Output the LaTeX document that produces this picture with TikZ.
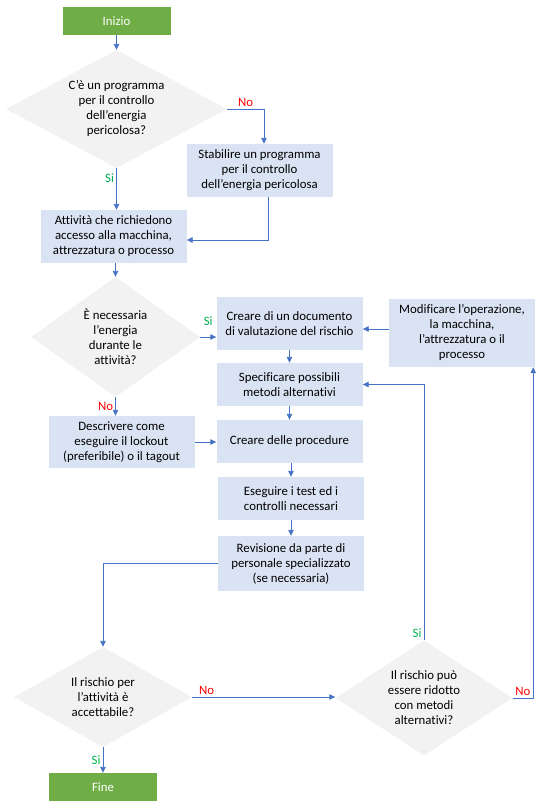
\documentclass[tikz,border=0pt]{standalone}
\usepackage{fontspec}
\setmainfont{Carlito}[Ligatures={NoCommon}]
\usetikzlibrary{shapes.geometric,arrows.meta,positioning}
\definecolor{startgreen}{HTML}{70AD47}
\definecolor{boxblue}{HTML}{DAE3F3}
\definecolor{askgray}{HTML}{F2F2F2}
\definecolor{linkblue}{HTML}{4472C4}
\definecolor{yesgreen}{HTML}{00B050}
\definecolor{nored}{HTML}{FF0000}

\begin{document}
\begin{tikzpicture}[x=1pt,y=-1pt,node distance=60pt,
    >={Triangle[length=6pt,width=5.5pt]},
    font=\fontsize{12.8}{15}\selectfont]
  \tikzstyle{every node}=[align=center]
  \tikzstyle{term}=[fill=startgreen,text=white,minimum width=108pt,minimum height=28pt,inner sep=0pt]
  \tikzstyle{act}=[fill=boxblue,minimum width=146pt,inner sep=2pt]
  \tikzstyle{ask}=[diamond,fill=askgray,inner sep=0pt]
  \tikzstyle{link}=[->,draw=linkblue,line width=0.9pt]
  \tikzstyle{silbl}=[text=yesgreen,inner sep=2pt]
  \tikzstyle{nolbl}=[text=nored,inner sep=2pt]
  \useasboundingbox (0,0) rectangle (550,809);

  % left column
  \node[term] (inizio) at (116.5,21) {Inizio};
  \node[ask,minimum width=221pt,minimum height=118pt,aspect=1.87] (d1) [node distance=88pt,below of=inizio]
    {C’è un programma\\per il controllo\\dell’energia\\pericolosa?};
  \node[act,minimum height=53pt] (stab) at (259.5,170.5)
    {Stabilire un programma\\per il controllo\\dell’energia pericolosa};
  \node[act,minimum height=53pt] (att) [node distance=127.5pt,below of=d1,xshift=-3pt]
    {Attività che richiedono\\accesso alla macchina,\\attrezzatura o processo};
  \node[ask,minimum width=169pt,minimum height=120pt,aspect=1.41] (d2) [node distance=100.5pt,below of=att,xshift=2pt]
    {È necessaria\\l’energia\\durante le\\attività?};
  \node[act,minimum height=52pt] (desc) [node distance=105pt,below of=d2,xshift=6pt]
    {Descrivere come\\eseguire il lockout\\(preferibile) o il tagout};

  % middle column
  \node[act,minimum height=53pt] (crea) at (289.5,323.5)
    {Creare di un documento\\di valutazione del rischio};
  \node[act,minimum height=68pt] (mod) at (462,333)
    {Modificare l’operazione,\\la macchina,\\l’attrezzatura o il\\processo};
  \node[act,minimum height=43pt] (spec) [node distance=61pt,below of=crea]
    {Specificare possibili\\metodi alternativi};
  \node[act,minimum height=43pt] (proc) [node distance=57pt,below of=spec]
    {Creare delle procedure};
  \node[act,minimum height=43pt] (ese) [node distance=57pt,below of=proc,xshift=1.5pt]
    {Eseguire i test ed i\\controlli necessari};
  \node[act,minimum height=55pt] (rev) [node distance=65pt,below of=ese]
    {Revisione da parte di\\personale specializzato\\(se necessaria)};

  % bottom row
  \node[ask,minimum width=178pt,minimum height=100pt,aspect=1.78] (d3) at (103,697)
    {Il rischio per\\l’attività è\\accettabile?};
  \node[term] (fine) [node distance=90pt,below of=d3] {Fine};
  \node[ask,minimum width=177pt,minimum height=115pt,aspect=1.54] (d4) at (424,698)
    {Il rischio può\\essere ridotto\\con metodi\\alternativi?};

  % connectors
  \draw[link] (inizio) -- (d1);
  \draw[link] (d1.east) -| node[nolbl,pos=0.25,above] (no1) {No} ([xshift=4.5pt]stab.north);
  \draw[link] (d1.south) -- node[silbl,pos=0.25,left] (si1) {Si} (d1.south |- att.north);
  \draw[link] ([xshift=8.5pt]stab.south) |- ([yshift=-3.5pt]att.east);
  \draw[link] (d2.north |- att.south) -- (d2.north);
  \draw[link] (d2.east) -- node[silbl,above=9pt] (si2) {Si} (d2.east -| crea.west);
  \coordinate (m1) at ([yshift=4pt]mod.west);
  \draw[link] (m1) -- (m1 -| crea.east);
  \draw[link] (crea.south) -- (crea.south |- spec.north);
  \draw[link] (spec.south) -- (spec.south |- proc.north);
  \draw[link] (ese.north |- proc.south) -- (ese.north);
  \draw[link] (rev.north |- ese.south) -- (rev.north);
  \draw[link] (d2.south) -- node[nolbl,left] (no2) {No} (d2.south |- desc.north);
  \draw[link] (desc.east) -- (desc.east -| proc.west);
  \draw[link] (rev.west) -| (d3.north);
  \draw[link] (d3.east) -- node[nolbl,pos=0.1,above] (no3) {No} (d3.east -| d4.west);
  \draw[link] (d3.south) -- node[silbl,left] (si3) {Si} (d3.south |- fine.north);
  \draw[link] (d4.north) |- node[silbl,pos=0,anchor=south east] (si4) {Si} (spec.east);
  \draw[link] (d4.east) -| node[nolbl,pos=0.25,above] (no4) {No} ([xshift=-2pt]mod.south east);
\end{tikzpicture}
\end{document}
